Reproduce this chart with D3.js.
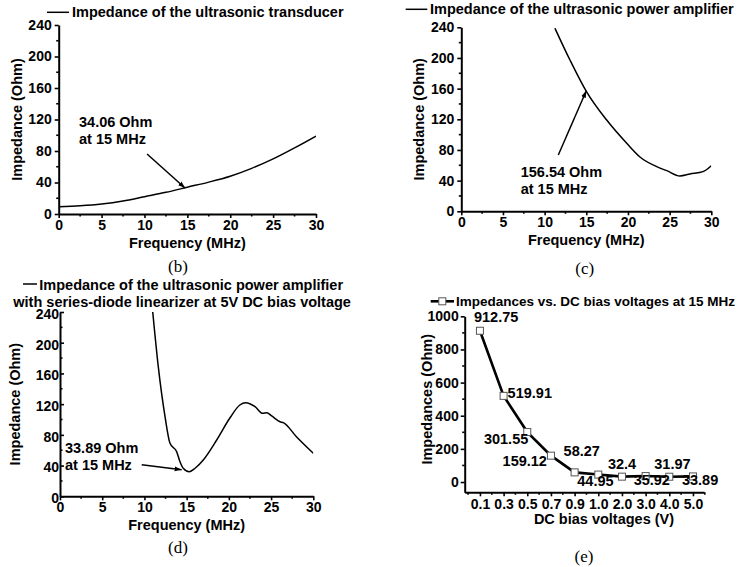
<!DOCTYPE html>
<html><head><meta charset="utf-8">
<script src="https://cdn.jsdelivr.net/npm/d3@7"></script>
<style>
body{margin:0;background:#fff;}
svg{display:block;}
text{font-family:"Liberation Sans",Arial,sans-serif;font-weight:bold;fill:#000;}
.cap{font-family:"Liberation Serif","Times New Roman",serif;font-weight:normal;}
</style></head>
<body>
<svg id="c" width="748" height="567"></svg>
<script>
// ---------- DATA ----------
const freqTicks = [0, 5, 10, 15, 20, 25, 30];
const impTicks = [0, 40, 80, 120, 160, 200, 240];

// (b) transducer impedance
const bFreq = [0, 2.5, 5, 7.5, 10, 12.5, 15, 17.5, 20, 22.5, 25, 27.5, 30];
const bImp  = [9.3, 10.5, 12.7, 16.5, 22, 27.5, 34.06, 40.5, 48, 58, 70, 84, 99];

// (c) power amplifier impedance
const cFreq = [11.24, 13.04, 15, 17.45, 19.85, 21.4, 23.45, 24.65, 26.24, 27.44, 29.0, 30];
const cImp  = [238.7, 197.3, 156.54, 119, 88.7, 71.2, 58.2, 53, 46, 48.7, 51.7, 59.5];

// (d) amplifier with series-diode linearizer
const dFreq = [10.98, 11.64, 12.44, 13.03, 13.82, 14.21, 14.6, 15.3, 16.0, 16.97, 18.56, 20.1, 21.3, 22.0, 23.1, 24.0, 24.5, 25.07, 26.06, 26.45, 28.0, 30.0];
const dImp  = [240.4, 168.8, 103.7, 69, 58.1, 45, 36.5, 32, 36.5, 47.3, 73.3, 101.6, 118.9, 121.9, 116.7, 108, 108.9, 104.6, 97.1, 95.9, 77.6, 56];

// (e) impedance vs DC bias voltage
const biasCats = ["0.1", "0.3", "0.5", "0.7", "0.9", "1.0", "2.0", "3.0", "4.0", "5.0"];
const biasImp  = [912.75, 519.91, 301.55, 159.12, 58.27, 44.95, 32.4, 35.92, 31.97, 33.89];
const biasLabels = ["912.75", "519.91", "301.55", "159.12", "58.27", "44.95", "32.4", "35.92", "31.97", "33.89"];
const eTicks = [0, 200, 400, 600, 800, 1000];

// ---------- LAYOUT ----------
const svg = d3.select("#c");
const FS = 14.5;

function styleAxis(g){
  g.select(".domain").attr("stroke","#000").attr("stroke-width",2);
  g.selectAll(".tick line").attr("stroke","#000").attr("stroke-width",1.6);
  g.selectAll(".tick text").style("font-size","14px").style("font-weight","bold").style("font-family","'Liberation Sans',Arial,sans-serif");
}

function minorTicks(g, scale, vals, orient, len){
  vals.forEach(v=>{
    const p = scale(v);
    if(orient==="bottom") g.append("line").attr("x1",p).attr("x2",p).attr("y1",0).attr("y2",len).attr("stroke","#000").attr("stroke-width",1.6);
    else g.append("line").attr("y1",p).attr("y2",p).attr("x1",0).attr("x2",len).attr("stroke","#000").attr("stroke-width",1.6);
  });
}

svg.append("defs").append("marker").attr("id","arr").attr("viewBox","0 0 10 10")
  .attr("refX",10).attr("refY",5).attr("markerWidth",7).attr("markerHeight",7)
  .attr("markerUnits","userSpaceOnUse").attr("orient","auto")
  .append("path").attr("d","M0,1.5 L10,5 L0,8.5 Z").attr("fill","#000");

function freqPanel(cfg){
  const x = d3.scaleLinear().domain([0,30]).range([cfg.x0,cfg.x1]);
  const y = d3.scaleLinear().domain([0,240]).range([cfg.y0,cfg.y1]);
  const id = "clip"+cfg.cap;
  svg.select("defs").append("clipPath").attr("id",id).append("rect")
    .attr("x",cfg.x0).attr("y",cfg.y1).attr("width",cfg.x1-cfg.x0).attr("height",cfg.y0-cfg.y1);

  const gx = svg.append("g").attr("transform",`translate(0,${cfg.y0})`)
    .call(d3.axisBottom(x).tickValues(freqTicks).tickSize(4).tickPadding(2).tickSizeOuter(0));
  styleAxis(gx);
  minorTicks(gx, x, [2.5,7.5,12.5,17.5,22.5,27.5], "bottom", 2.5);

  const yAx = cfg.yIn ? d3.axisRight(y).tickSize(4).tickPadding(-4) : d3.axisLeft(y).tickSize(4).tickPadding(3);
  const gy = svg.append("g").attr("transform",`translate(${cfg.x0},0)`)
    .call(yAx.tickValues(impTicks).tickSizeOuter(0));
  styleAxis(gy);
  if(cfg.yIn) gy.selectAll(".tick text").attr("text-anchor","end").attr("x",-1).attr("dy","0.45em");
  minorTicks(gy, y, [20,60,100,140,180,220], "right", cfg.yIn?2.5:-2.5);

  svg.append("path").datum(cfg.fx.map((f,i)=>[f,cfg.fy[i]]))
    .attr("clip-path",`url(#${id})`)
    .attr("fill","none").attr("stroke","#000").attr("stroke-width",1.5)
    .attr("d", d3.line().x(d=>x(d[0])).y(d=>y(d[1])).curve(d3.curveMonotoneX));

  // annotation
  const t = svg.append("text").attr("x",x(cfg.ann.tx)).attr("y",y(cfg.ann.ty)).style("font-size",FS+"px");
  t.append("tspan").attr("x",x(cfg.ann.tx)).text(cfg.ann.l1);
  t.append("tspan").attr("x",x(cfg.ann.tx)).attr("dy",17.5).text(cfg.ann.l2);
  svg.append("line").attr("x1",x(cfg.ann.a[0])).attr("y1",y(cfg.ann.a[1]))
    .attr("x2",x(cfg.ann.a[2])).attr("y2",y(cfg.ann.a[3]))
    .attr("stroke","#000").attr("stroke-width",1.5).attr("marker-end","url(#arr)");

  // axis titles
  svg.append("text").attr("x",(cfg.x0+cfg.x1)/2).attr("y",cfg.y0+cfg.xtDy).attr("text-anchor","middle")
    .style("font-size",FS+"px").text("Frequency (MHz)");
  svg.append("text").attr("transform",`translate(${cfg.ytx},${(cfg.y0+cfg.y1)/2}) rotate(-90)`)
    .attr("text-anchor","middle").attr("dy","0.35em").style("font-size",FS+"px").text("Impedance (Ohm)");
  // caption
  svg.append("text").attr("class","cap").attr("x",cfg.capX).attr("y",cfg.capY).attr("text-anchor","middle")
    .style("font-size","17px").text(`(${cfg.cap})`);
  // legend
  svg.append("line").attr("x1",cfg.leg.lx0).attr("x2",cfg.leg.lx1).attr("y1",cfg.leg.ly).attr("y2",cfg.leg.ly)
    .attr("stroke","#000").attr("stroke-width",1.5);
  cfg.leg.lines.forEach((s,i)=>{
    svg.append("text").attr("x",cfg.leg.tx[i]).attr("y",cfg.leg.ty[i]).style("font-size",FS+"px").text(s);
  });
}

freqPanel({cap:"b", x0:58.7, x1:316, y0:214, y1:25, fx:bFreq, fy:bImp, xtDy:34, ytx:17,
  capX:178, capY:272,
  ann:{tx:2.37, ty:110.5, l1:"34.06 Ohm", l2:"at 15 MHz", a:[10.3,76.2,14.73,33]},
  leg:{lx0:47, lx1:69, ly:12.3, tx:[72], ty:[17], lines:["Impedance of the ultrasonic transducer"]}});

freqPanel({cap:"c", x0:461.3, x1:711.3, y0:211.3, y1:27.3, fx:cFreq, fy:cImp, xtDy:34, ytx:419,
  capX:584.7, capY:274,
  ann:{tx:7.13, ty:45.1, l1:"156.54 Ohm", l2:"at 15 MHz", a:[11.64,73.4,15.0,157.3]},
  leg:{lx0:405.7, lx1:427.3, ly:9.3, tx:[430], ty:[14], lines:["Impedance of the ultrasonic power amplifier"]}});

freqPanel({cap:"d", x0:60, x1:313.3, y0:496.3, y1:312, fx:dFreq, fy:dImp, xtDy:34, ytx:15, yIn:true,
  capX:178, capY:553,
  ann:{tx:0.59, ty:56.4, l1:"33.89 Ohm", l2:"at 15 MHz", a:[9.68,41.2,14.41,34.6]},
  leg:{lx0:23, lx1:37, ly:284, tx:[39.3,13.3], ty:[289.5,306.5],
    lines:["Impedance of the ultrasonic power amplifier","with series-diode linearizer at 5V DC bias voltage"]}});

// ---------- panel (e) ----------
(function(){
  const x0=464.7, x1=704, y0=492.3, y1=316.3;
  const x = d3.scalePoint().domain(biasCats).range([x0,x1]).padding(0.555).align(0.58);
  const y = d3.scaleLinear().domain([-62,1000]).range([y0,y1]);
  const gx = svg.append("g").attr("transform",`translate(0,${y0})`)
    .call(d3.axisBottom(x).tickSize(4).tickPadding(3).tickSizeOuter(0));
  styleAxis(gx);
  const step = x.step();
  const mids = biasCats.map(c=>x(c)-step/2).concat([x(biasCats[biasCats.length-1])+step/2]);
  mids.forEach(p=>gx.append("line").attr("x1",p).attr("x2",p).attr("y1",0).attr("y2",2.5).attr("stroke","#000").attr("stroke-width",1.6));
  const gy = svg.append("g").attr("transform",`translate(${x0},0)`)
    .call(d3.axisLeft(y).tickValues(eTicks).tickFormat(d3.format("d")).tickSize(4).tickPadding(2).tickSizeOuter(0));
  styleAxis(gy);
  minorTicks(gy, y, [100,300,500,700,900], "right", -2.5);

  const pts = biasCats.map((c,i)=>[x(c), y(biasImp[i])]);
  svg.append("path").datum(pts).attr("fill","none").attr("stroke","#000").attr("stroke-width",2.6)
    .attr("d", d3.line());
  svg.selectAll(".sq").data(pts).enter().append("rect")
    .attr("x",d=>d[0]-3.5).attr("y",d=>d[1]-3.5).attr("width",7).attr("height",7)
    .attr("fill","#fff").attr("stroke","#555").attr("stroke-width",1);

  // value label placement (layout only)
  const lblPos = [[-6,-9,"start"],[4,2,"start"],[1,12,"end"],[-4,10,"end"],[-11,-16,"start"],
                  [-21,11,"start"],[-14,-8,"start"],[-12,9,"start"],[-15,-8,"start"],[-11,9,"start"]];
  biasLabels.forEach((s,i)=>{
    svg.append("text").attr("x",pts[i][0]+lblPos[i][0]).attr("y",pts[i][1]+lblPos[i][1])
      .attr("text-anchor",lblPos[i][2]).style("font-size",FS+"px").text(s);
  });

  svg.append("text").attr("x",604).attr("y",524).attr("text-anchor","middle").style("font-size",FS+"px").text("DC bias voltages (V)");
  svg.append("text").attr("transform",`translate(427,${(y0+y1)/2 - 5}) rotate(-90)`).attr("text-anchor","middle")
    .attr("dy","0.35em").style("font-size",FS+"px").text("Impedances (Ohm)");
  svg.append("text").attr("class","cap").attr("x",584).attr("y",562).attr("text-anchor","middle").style("font-size","17px").text("(e)");
  // legend
  svg.append("line").attr("x1",430.7).attr("x2",454).attr("y1",301.3).attr("y2",301.3).attr("stroke","#000").attr("stroke-width",2.6);
  svg.append("rect").attr("x",442.3-3.5).attr("y",301.3-3.5).attr("width",7).attr("height",7).attr("fill","#fff").attr("stroke","#555");
  svg.append("text").attr("x",456).attr("y",306).style("font-size","13.5px").text("Impedances vs. DC bias voltages at 15 MHz");
})();
</script>
</body></html>
